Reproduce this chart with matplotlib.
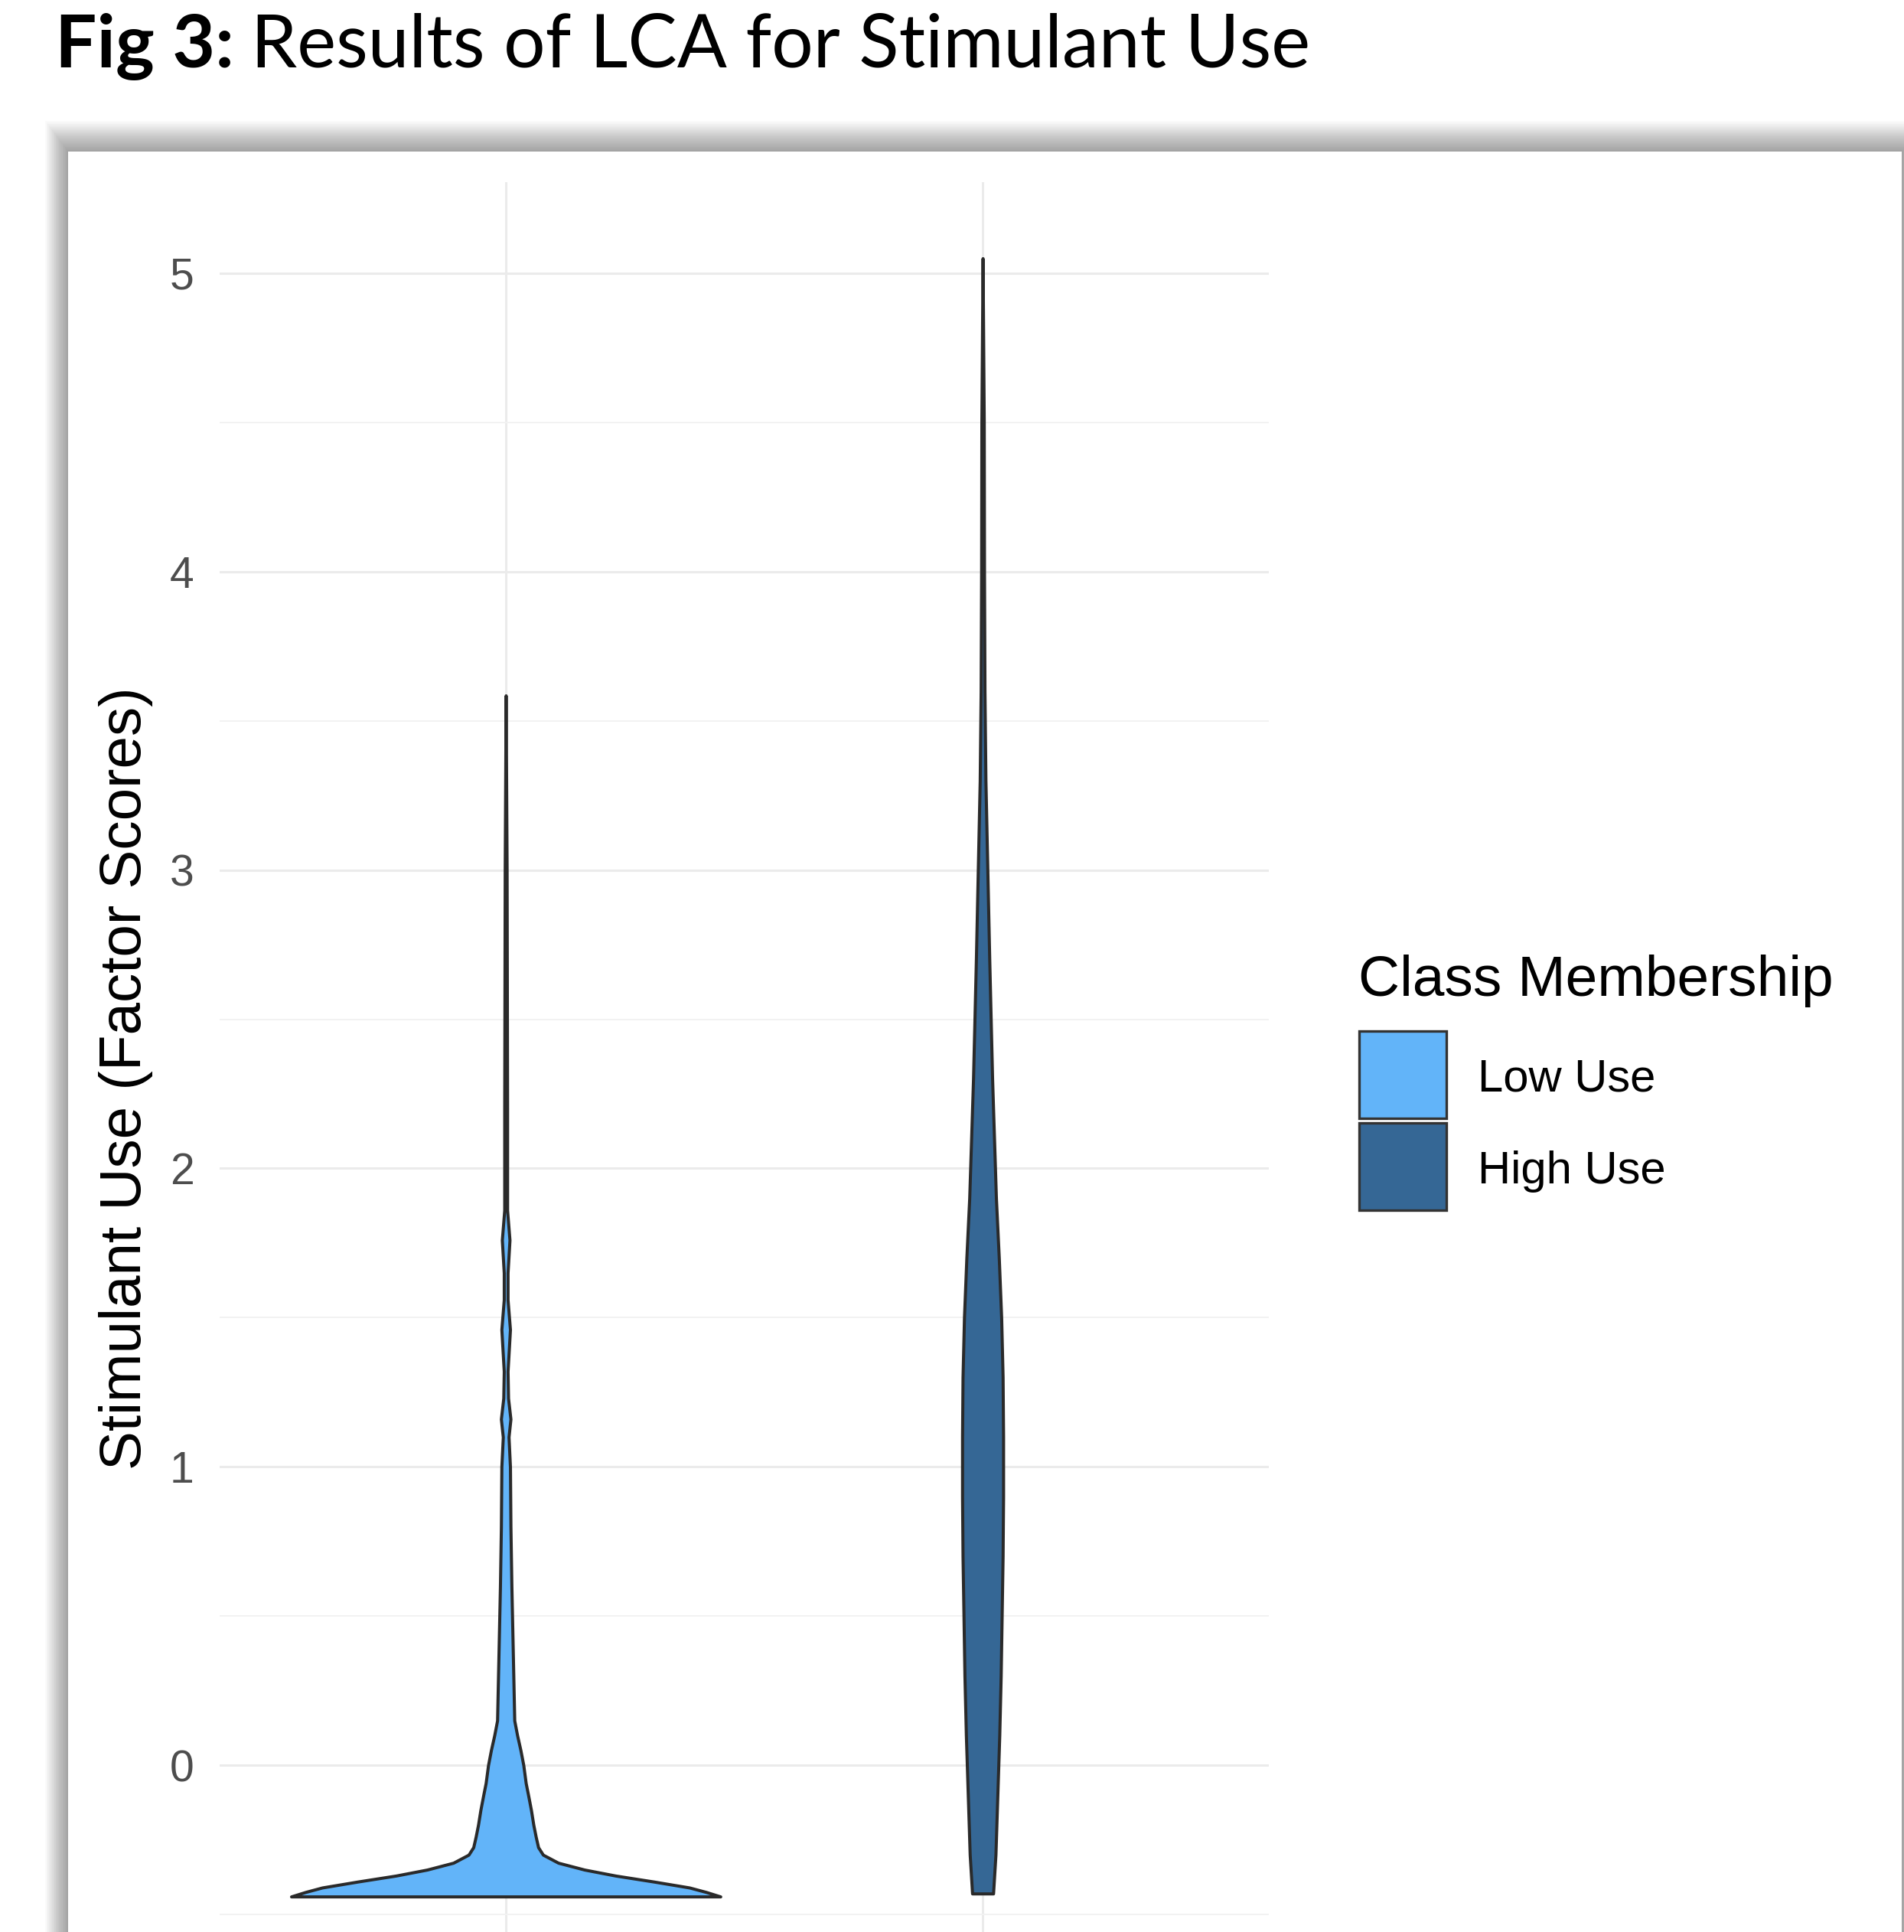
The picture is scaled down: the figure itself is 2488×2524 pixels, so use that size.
import matplotlib.pyplot as plt
from matplotlib.patches import Rectangle
import numpy as np

# ---- data ----
groups = ['Low Use', 'High Use']
fills = ['#62B4F9', '#356795']
legend_title = 'Class Membership'
y_label = 'Stimulant Use (Factor Scores)'
y_ticks = [0, 1, 2, 3, 4, 5]

# violin outlines: factor score level and half width (x units)
low_y = [-0.440, -0.425, -0.410, -0.390, -0.370, -0.350, -0.327, -0.300, -0.275,
         -0.240, -0.200, -0.150, -0.100, -0.060, 0.000, 0.050, 0.100, 0.150,
         0.300, 0.450, 0.600, 0.800, 1.000, 1.100, 1.160, 1.230, 1.320, 1.460,
         1.560, 1.650, 1.760, 1.860, 2.200, 2.600, 3.000, 3.585]
low_hw = [0.450, 0.420, 0.385, 0.310, 0.230, 0.165, 0.110, 0.078, 0.068,
          0.063, 0.058, 0.053, 0.047, 0.042, 0.037, 0.031, 0.024, 0.018,
          0.016, 0.014, 0.012, 0.010, 0.009, 0.006, 0.010, 0.005, 0.004, 0.009,
          0.004, 0.004, 0.008, 0.003, 0.003, 0.0025, 0.002, 0.0]

high_y = [-0.43, -0.30, -0.10, 0.10, 0.30, 0.50, 0.70, 0.90, 1.10, 1.30, 1.50,
          1.70, 1.90, 2.10, 2.30, 2.50, 2.70, 3.00, 3.30, 3.60, 4.00, 4.50, 5.05]
high_hw = [0.022, 0.027, 0.031, 0.035, 0.038, 0.040, 0.042, 0.043, 0.043, 0.042,
           0.039, 0.034, 0.028, 0.024, 0.020, 0.017, 0.014, 0.010, 0.006, 0.004,
           0.003, 0.0025, 0.0]

W, H = 2488, 2524
fig = plt.figure(figsize=(W / 100, H / 100), dpi=100)
fig.patch.set_facecolor('white')

def fx(px):
    return px / W

def fy(py):
    return 1 - py / H

# card with a soft shadow on top / left
card_l, card_t, card_r = 89, 198, 2485
for i in range(20, 0, -1):
    fig.add_artist(Rectangle((fx(card_l - i * 1.5), fy(H + 50)),
                             fx(card_r - card_l + i * 3.0), (H + 50 - card_t + i * 2.0) / H,
                             transform=fig.transFigure, facecolor='black',
                             alpha=0.018, edgecolor='none', zorder=0))
fig.add_artist(Rectangle((fx(card_l), fy(H + 50)), fx(card_r - card_l),
                         (H + 50 - card_t) / H, transform=fig.transFigure,
                         facecolor='white', edgecolor='none', zorder=0.5))

# title
t1 = fig.text(fx(72), fy(88), 'Fig 3:', family='Lato', weight='bold',
              fontsize=69.3, va='baseline', ha='left')
fig.canvas.draw()
bb = t1.get_window_extent()
fig.text(bb.x1 / W + fx(22), fy(88), 'Results of LCA for Stimulant Use',
         family='Lato', fontsize=69.3, va='baseline', ha='left')

# panel
ax = fig.add_axes([fx(287), fy(2579), fx(1658 - 287), (2579 - 238) / H])
ax.set_zorder(2)
ax.set_facecolor('none')
ax.set_xlim(0.4, 2.6)
ax.set_ylim(-0.70, 5.305)
for s in ax.spines.values():
    s.set_visible(False)
ax.set_yticks(y_ticks)
ax.set_yticks(np.arange(-0.5, 5.5, 1.0), minor=True)
ax.set_xticks([1, 2])
ax.set_xticklabels([])
ax.grid(which='major', color='#EBEBEB', lw=2.2)
ax.grid(which='minor', axis='y', color='#F2F2F2', lw=1.4)
ax.set_axisbelow(True)
ax.tick_params(which='both', length=0)
ax.tick_params(axis='y', labelsize=41, labelcolor='#4D4D4D', pad=24)
for lab in ax.get_yticklabels():
    lab.set_family('Liberation Sans')
ax.set_ylabel(y_label, family='Liberation Sans', fontsize=55, color='black')
ax.yaxis.set_label_coords((200 - 287) / (1658 - 287), 0.5)

profiles = [(low_y, low_hw), (high_y, high_hw)]
for i, (yy, hw) in enumerate(profiles):
    yy = np.array(yy)
    hw = np.array(hw)
    ax.fill_betweenx(yy, i + 1 - hw, i + 1 + hw, facecolor=fills[i],
                     edgecolor='#2A2A2A', lw=2.9, zorder=3)

# legend
fig.text(fx(1775), fy(1281), legend_title, family='Liberation Sans',
         fontsize=54, va='center', ha='left', zorder=3)
key_t = [1347, 1467]
for i, g in enumerate(groups):
    fig.add_artist(Rectangle((fx(1776), fy(key_t[i] + 114)), fx(114), 114 / H,
                             transform=fig.transFigure, facecolor=fills[i],
                             edgecolor='#333333', lw=2.4, zorder=3))
    fig.text(fx(1931), fy(key_t[i] + 63), g, family='Liberation Sans',
             fontsize=43, va='center', ha='left', zorder=3)

fig.savefig('out.png', dpi=100)
